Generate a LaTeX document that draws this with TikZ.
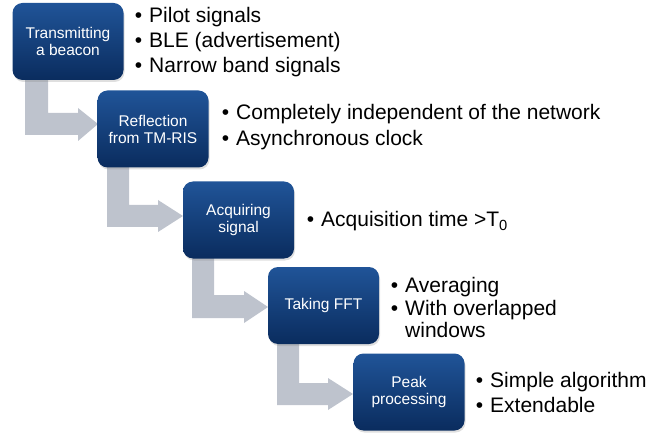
\documentclass[tikz,border=0pt]{standalone}
\usepackage{fontspec}
\setmainfont{Liberation Sans}
\usetikzlibrary{shadows}
\definecolor{boxtop}{RGB}{32,84,152}
\definecolor{boxbot}{RGB}{10,44,94}
\definecolor{arrowgray}{RGB}{190,195,205}
\tikzset{
  stepbox/.style={rounded corners=10pt, minimum width=111pt, minimum height=77pt,
    inner sep=2pt, top color=boxtop, bottom color=boxbot, text=white, align=center,
    font=\fontsize{15.5}{17}\selectfont,
    drop shadow={shadow xshift=1pt, shadow yshift=-2pt, opacity=0.25}},
  bul/.style={anchor=base west, inner sep=0pt, font=\fontsize{21}{24}\selectfont},
  bentarrow/.style={fill=arrowgray, draw=none}
}
\newcommand{\bt}{\llap{\textbullet\hspace{7pt}}}
\begin{document}
\begin{tikzpicture}[x=1pt,y=-1pt]
\useasboundingbox (0,0) rectangle (668,435);
% bent arrows
\fill[bentarrow] (25,60) -- (25,135) -- (78,135) -- (78,141) -- (98,124) -- (78,108) -- (78,113) -- (48,113) -- (48,60) -- cycle;
\fill[bentarrow] (107,150) -- (107,227) -- (158,227) -- (158,232) -- (183,216) -- (158,200) -- (158,205) -- (129,205) -- (129,150) -- cycle;
\fill[bentarrow] (192,240) -- (192,318) -- (244,318) -- (244,323) -- (268,307) -- (244,291) -- (244,295) -- (214,295) -- (214,240) -- cycle;
\fill[bentarrow] (277,325) -- (277,405) -- (328,405) -- (328,410) -- (353,394) -- (328,378) -- (328,383) -- (299,383) -- (299,325) -- cycle;
% boxes
\node[stepbox] (b1) at (68,41.5) {Transmitting\\a beacon};
\node[stepbox] (b2) at (153,129) {Reflection\\from TM-RIS};
\node[stepbox] (b3) at (238.5,220) {Acquiring\\signal};
\node[stepbox] (b4) at (323.5,305.5) {Taking FFT};
\node[stepbox] (b5) at (409,392) {Peak\\processing};
% bullets
\node[bul] (t1a) at (149,23) {\bt Pilot signals};
\node[bul] (t1b) at (149,48) {\bt BLE (advertisement)};
\node[bul] (t1c) at (149,73) {\bt Narrow band signals};
\node[bul] (t2a) at (236,120) {\bt Completely independent of the network};
\node[bul] (t2b) at (236,146) {\bt Asynchronous clock};
\node[bul] (t3a) at (321,227) {\bt Acquisition time >T\textsubscript{0}};
\node[bul] (t4a) at (405,292) {\bt Averaging};
\node[bul] (t4b) at (405,315) {\bt With overlapped};
\node[bul] (t4c) at (405,337) {windows};
\node[bul] (t5a) at (490,387) {\bt Simple algorithm};
\node[bul] (t5b) at (490,412) {\bt Extendable};
\end{tikzpicture}
\end{document}
